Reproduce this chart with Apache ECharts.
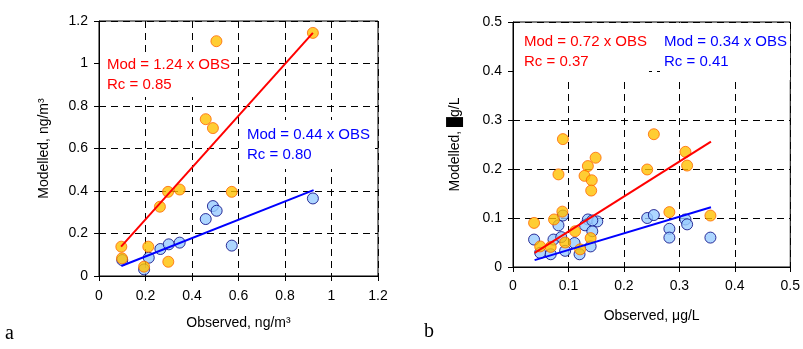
<!DOCTYPE html>
<html>
<head>
<meta charset="utf-8">
<script src="https://cdn.jsdelivr.net/npm/echarts@6/dist/echarts.min.js"></script>
<style>
  html, body { margin: 0; padding: 0; background: #fff; }
  #chart { width: 803px; height: 349px; }
</style>
</head>
<body>
<div id="chart"></div>
<script>
// panel a: observed vs modelled, ng/m3
const aOrange = [
  [0.096, 0.138], [0.099, 0.083], [0.194, 0.044], [0.212, 0.138], [0.262, 0.326],
  [0.297, 0.396], [0.298, 0.067], [0.347, 0.407], [0.459, 0.738], [0.490, 0.696],
  [0.505, 1.105], [0.571, 0.396], [0.920, 1.144]
];
const aBlue = [
  [0.100, 0.075], [0.194, 0.031], [0.214, 0.086], [0.264, 0.127], [0.300, 0.149],
  [0.347, 0.157], [0.459, 0.268], [0.490, 0.329], [0.506, 0.307], [0.571, 0.143],
  [0.920, 0.365]
];
const aRedFit = [[0.095, 0.138], [0.920, 1.144]];
const aBlueFit = [[0.096, 0.047], [0.923, 0.404]];

// panel b: observed vs modelled, ug/L
const bOrange = [
  [0.090, 0.261], [0.082, 0.189], [0.135, 0.206], [0.149, 0.223], [0.129, 0.186],
  [0.142, 0.177], [0.141, 0.156], [0.242, 0.199], [0.254, 0.271], [0.311, 0.235],
  [0.314, 0.207], [0.282, 0.112], [0.356, 0.105], [0.038, 0.090], [0.074, 0.097],
  [0.089, 0.113], [0.112, 0.073], [0.094, 0.050], [0.140, 0.059], [0.049, 0.042],
  [0.068, 0.041], [0.121, 0.036]
];
const bBlue = [
  [0.038, 0.056], [0.049, 0.029], [0.068, 0.026], [0.073, 0.056], [0.082, 0.085],
  [0.090, 0.105], [0.087, 0.061], [0.094, 0.033], [0.111, 0.049], [0.120, 0.026],
  [0.135, 0.097], [0.130, 0.085], [0.143, 0.073], [0.152, 0.093], [0.140, 0.042],
  [0.143, 0.095], [0.242, 0.100], [0.254, 0.106], [0.282, 0.078], [0.282, 0.060],
  [0.311, 0.097], [0.314, 0.087], [0.356, 0.060]
];
const bRedFit = [[0.039, 0.029], [0.357, 0.256]];
const bBlueFit = [[0.039, 0.014], [0.357, 0.122]];

const FONT = 'Liberation Sans, Arial, sans-serif';
const NARROW = 'Liberation Sans Narrow, Liberation Sans, Arial, sans-serif';

const chart = echarts.init(document.getElementById('chart'));

const dashed = { show: true, lineStyle: { color: '#000', type: [7, 5], width: 1 } };
const fmt = (v) => String(+v.toFixed(1));

function valAxis(gridIndex, max, interval, name, nameGap, labelMargin, isY) {
  return {
    type: 'value',
    gridIndex,
    min: 0,
    max,
    interval,
    name,
    nameLocation: 'middle',
    nameGap,
    nameTextStyle: { fontFamily: NARROW, fontSize: 14, color: '#000' },
    axisLine: { show: true, onZero: false, lineStyle: { color: '#000', width: 1 } },
    axisTick: { show: true, length: 5, lineStyle: { color: '#000' } },
    axisLabel: { color: '#000', fontFamily: FONT, fontSize: 14, margin: labelMargin, formatter: fmt },
    splitLine: dashed
  };
}

const orangeStyle = { color: '#FFC000', borderColor: '#FF6600', borderWidth: 1 };
const blueStyle = { color: '#99CCFF', borderColor: '#000080', borderWidth: 1 };

function scatter(data, xi, style, z) {
  return { type: 'scatter', xAxisIndex: xi, yAxisIndex: xi, data, symbolSize: 11, itemStyle: style, z };
}
function fit(data, xi, color) {
  return {
    type: 'line', xAxisIndex: xi, yAxisIndex: xi, data, showSymbol: false, z: 5,
    lineStyle: { color, width: 2 }
  };
}

function note(x, y, lines, color, padding) {
  return {
    type: 'text', x, y, z: 100,
    style: {
      text: lines.join('\n'),
      fill: color,
      font: '15px ' + FONT,
      lineHeight: 20,
      backgroundColor: '#fff',
      padding,
      textAlign: 'left',
      textVerticalAlign: 'top'
    }
  };
}

chart.setOption({
  animation: false,
  backgroundColor: '#fff',
  grid: [
    { left: 99, top: 21, width: 279, height: 255, show: true, borderColor: '#000', borderWidth: 1 },
    { left: 513, top: 22, width: 279, height: 245, show: true, borderColor: '#000', borderWidth: 1 }
  ],
  xAxis: [
    valAxis(0, 1.2, 0.2, 'Observed, ng/m³', 40, 13, false),
    valAxis(1, 0.5, 0.1, 'Observed, μg/L', 42, 12, false)
  ],
  yAxis: [
    valAxis(0, 1.2, 0.2, 'Modelled, ng/m³', 48, 11, true),
    valAxis(1, 0.5, 0.1, 'Modelled, \u2588g/L', 51, 11, true)
  ],
  series: [
    scatter(aBlue, 0, blueStyle, 2),
    scatter(aOrange, 0, orangeStyle, 3),
    fit(aRedFit, 0, '#FF0000'),
    fit(aBlueFit, 0, '#0000FF'),
    scatter(bBlue, 1, blueStyle, 2),
    scatter(bOrange, 1, orangeStyle, 3),
    fit(bRedFit, 1, '#FF0000'),
    fit(bBlueFit, 1, '#0000FF')
  ],
  graphic: [
    note(100, 53, ['Mod = 1.24 x OBS', 'Rc = 0.85'], '#FF0000', [2, 1, 2, 7]),
    note(241, 120, ['Mod = 0.44 x OBS', 'Rc = 0.80'], '#0000FF', [5, 5, 4, 6]),
    note(514, 23, ['Mod = 0.72 x OBS', 'Rc = 0.37'], '#FF0000', [9, 2, 8, 10]),
    note(660, 23, ['Mod = 0.34 x OBS', 'Rc = 0.41'], '#0000FF', [9, 3, 8, 4]),
    { type: 'text', x: 5, y: 324, style: { text: 'a', fill: '#000', font: '20px Liberation Serif, Times New Roman, serif' } },
    { type: 'text', x: 424, y: 322, style: { text: 'b', fill: '#000', font: '20px Liberation Serif, Times New Roman, serif' } }
  ]
});
</script>
</body>
</html>
